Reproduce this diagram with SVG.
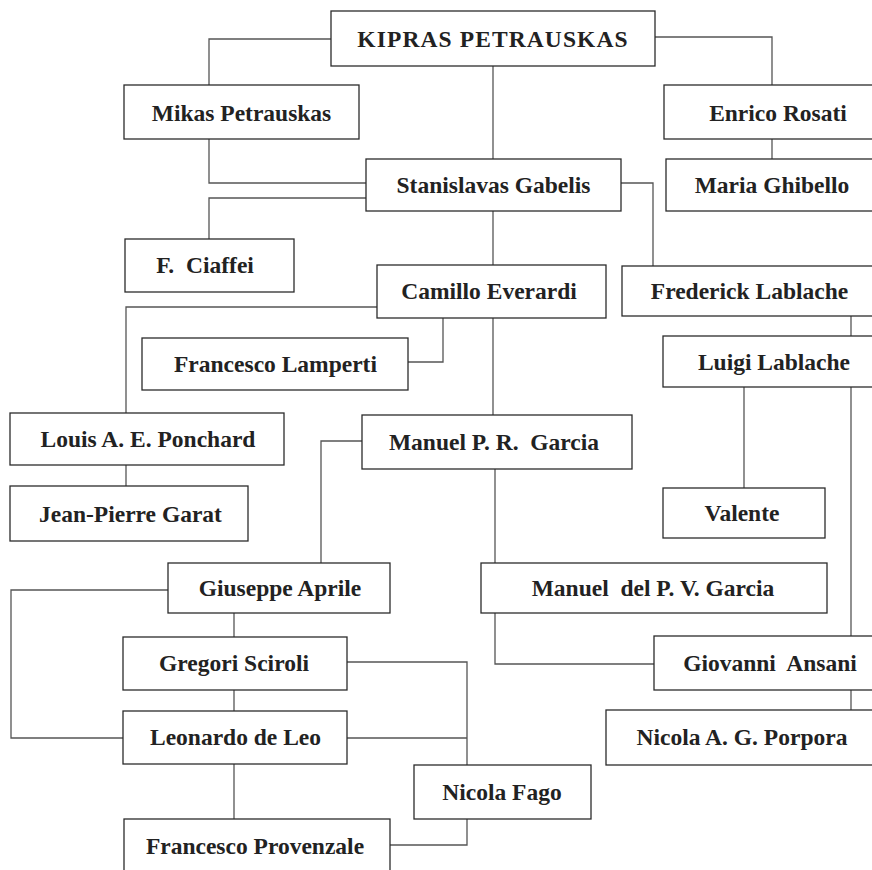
<svg xmlns="http://www.w3.org/2000/svg" width="872" height="870" viewBox="0 0 872 870">
<style>
.box{fill:#fff;stroke:#2b2b2b;stroke-width:1.3}
.lbl{font-family:"Liberation Serif","DejaVu Serif",serif;font-weight:bold;font-size:23.5px;fill:#222;text-anchor:middle;white-space:pre}
.con{fill:none;stroke:#555;stroke-width:1.3}
</style>
<rect width="872" height="870" fill="#fff"/>
<g id="connectors">
<path class="con" d="M331,39 H209 V85"/>
<path class="con" d="M655,37 H772 V85"/>
<path class="con" d="M493,66 V159"/>
<path class="con" d="M209,139 V183 H366"/>
<path class="con" d="M366,198 H209 V239"/>
<path class="con" d="M772,139 V159"/>
<path class="con" d="M621,183 H653 V266"/>
<path class="con" d="M493,211 V265"/>
<path class="con" d="M377,307 H126 V413"/>
<path class="con" d="M408,362 H443 V318"/>
<path class="con" d="M493,318 V415"/>
<path class="con" d="M126,465 V486"/>
<path class="con" d="M851,316 V336"/>
<path class="con" d="M744,387 V488"/>
<path class="con" d="M851,387 V636"/>
<path class="con" d="M362,441 H321 V563"/>
<path class="con" d="M495,469 V563"/>
<path class="con" d="M495,613 V664 H654"/>
<path class="con" d="M851,690 V710"/>
<path class="con" d="M168,590 H11 V738 H123"/>
<path class="con" d="M234,613 V637"/>
<path class="con" d="M234,690 V711"/>
<path class="con" d="M234,764 V819"/>
<path class="con" d="M347,662 H467 V765"/>
<path class="con" d="M347,738 H467"/>
<path class="con" d="M467,819 V845 H390"/>
</g>
<g id="n1"><rect class="box" x="331" y="11" width="324" height="55"/><text class="lbl" x="493" y="47" style="letter-spacing:1.1px">KIPRAS PETRAUSKAS</text></g>
<g id="n2"><rect class="box" x="124" y="85" width="235" height="54"/><text class="lbl" x="241.5" y="121">Mikas Petrauskas</text></g>
<g id="n3"><rect class="box" x="664" y="85" width="240" height="54"/><text class="lbl" x="778" y="121">Enrico Rosati</text></g>
<g id="n4"><rect class="box" x="366" y="159" width="255" height="52"/><text class="lbl" x="493.5" y="193">Stanislavas Gabelis</text></g>
<g id="n5"><rect class="box" x="666" y="159" width="230" height="52"/><text class="lbl" x="772" y="193">Maria Ghibello</text></g>
<g id="n6"><rect class="box" x="125" y="239" width="169" height="53"/><text class="lbl" x="205" y="273">F.  Ciaffei</text></g>
<g id="n7"><rect class="box" x="377" y="265" width="229" height="53"/><text class="lbl" x="489" y="299">Camillo Everardi</text></g>
<g id="n8"><rect class="box" x="622" y="266" width="270" height="50"/><text class="lbl" x="749.5" y="299">Frederick Lablache</text></g>
<g id="n9"><rect class="box" x="142" y="338" width="266" height="52"/><text class="lbl" x="275.5" y="372">Francesco Lamperti</text></g>
<g id="n10"><rect class="box" x="663" y="336" width="230" height="51"/><text class="lbl" x="774" y="370">Luigi Lablache</text></g>
<g id="n11"><rect class="box" x="10" y="413" width="274" height="52"/><text class="lbl" x="148" y="447">Louis A. E. Ponchard</text></g>
<g id="n12"><rect class="box" x="362" y="415" width="270" height="54"/><text class="lbl" x="494" y="450">Manuel P. R.  Garcia</text></g>
<g id="n13"><rect class="box" x="10" y="486" width="238" height="55"/><text class="lbl" x="130.5" y="522">Jean-Pierre Garat</text></g>
<g id="n14"><rect class="box" x="663" y="488" width="162" height="50"/><text class="lbl" x="742" y="521">Valente</text></g>
<g id="n15"><rect class="box" x="168" y="563" width="222" height="50"/><text class="lbl" x="280" y="596">Giuseppe Aprile</text></g>
<g id="n16"><rect class="box" x="481" y="563" width="346" height="50"/><text class="lbl" x="653" y="596">Manuel  del P. V. Garcia</text></g>
<g id="n17"><rect class="box" x="123" y="637" width="224" height="53"/><text class="lbl" x="234" y="671">Gregori Sciroli</text></g>
<g id="n18"><rect class="box" x="654" y="636" width="240" height="54"/><text class="lbl" x="770" y="671">Giovanni  Ansani</text></g>
<g id="n19"><rect class="box" x="123" y="711" width="224" height="53"/><text class="lbl" x="235.5" y="745">Leonardo de Leo</text></g>
<g id="n20"><rect class="box" x="606" y="710" width="280" height="55"/><text class="lbl" x="742" y="745">Nicola A. G. Porpora</text></g>
<g id="n21"><rect class="box" x="414" y="765" width="177" height="54"/><text class="lbl" x="502" y="800">Nicola Fago</text></g>
<g id="n22"><rect class="box" x="124" y="819" width="266" height="70"/><text class="lbl" x="255" y="854">Francesco Provenzale</text></g>
</svg>
